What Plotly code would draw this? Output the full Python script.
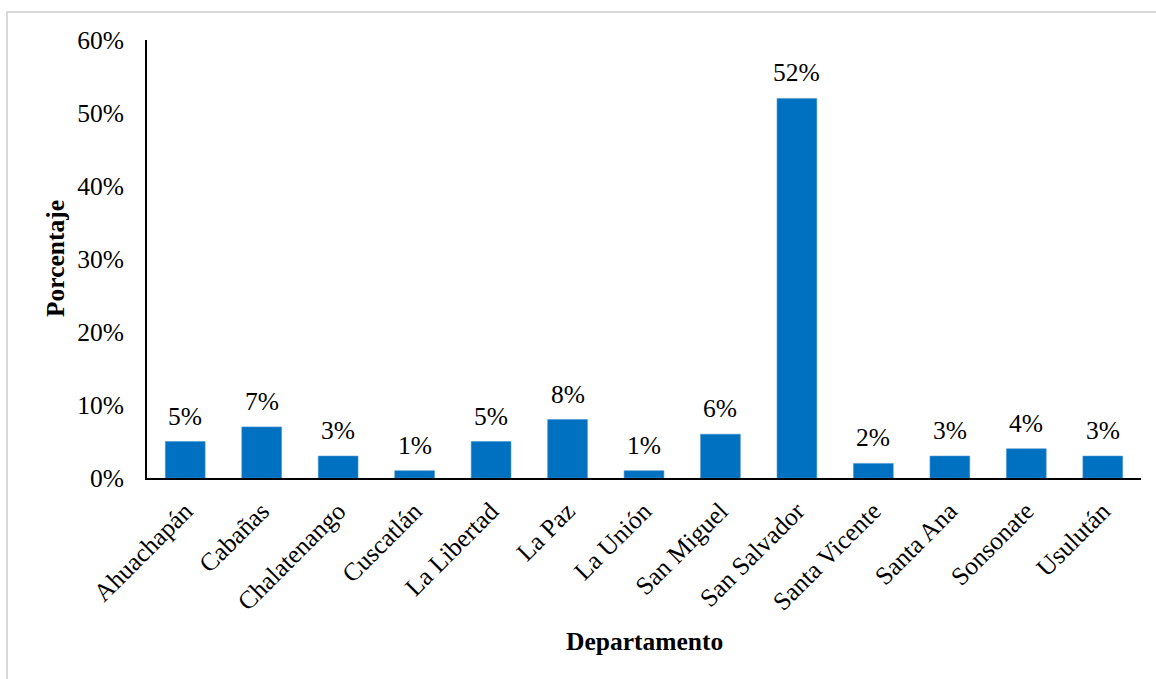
import plotly.graph_objects as go

departamentos = ["Ahuachapán", "Cabañas", "Chalatenango", "Cuscatlán", "La Libertad",
                 "La Paz", "La Unión", "San Miguel", "San Salvador", "Santa Vicente",
                 "Santa Ana", "Sonsonate", "Usulután"]
porcentajes = [5, 7, 3, 1, 5, 8, 1, 6, 52, 2, 3, 4, 3]
y_ticks = [0, 10, 20, 30, 40, 50, 60]
y_tick_labels = [f"{v}%" for v in y_ticks]

FONT = "Liberation Serif"
FS = 25.5
W, H = 1156, 679
L, R, T, B = 147, 15, 40, 201
pw, ph = W - L - R, H - T - B

fig = go.Figure(go.Bar(
    x=departamentos,
    y=porcentajes,
    marker=dict(color="#0070C0", line=dict(color="#4a93d0", width=0.6)),
    width=0.52,
    cliponaxis=False,
))

def px_x(x):
    return (x - L) / pw

def px_y(y):
    return (H - B - y) / ph

# value labels above each bar
value_labels = [
    dict(x=d, y=v, xref="x", yref="y", text=f"{v}%", showarrow=False,
         xanchor="center", yanchor="bottom", yshift=9,
         font=dict(family=FONT, size=FS, color="#000000"))
    for d, v in zip(departamentos, porcentajes)
]

fig.update_layout(
    width=W, height=H,
    margin=dict(l=L, r=R, t=T, b=B),
    paper_bgcolor="white",
    plot_bgcolor="white",
    showlegend=False,
    font=dict(family=FONT, size=FS, color="#000000"),
    xaxis=dict(
        showline=True, linecolor="#000000", linewidth=2,
        ticks="", tickangle=-45,
        tickfont=dict(family=FONT, size=FS, color="#000000"),
        ticklabelstandoff=6,
        showgrid=False, automargin=False,
    ),
    yaxis=dict(
        range=[0, 60],
        tickvals=y_ticks, ticktext=y_tick_labels,
        showline=True, linecolor="#000000", linewidth=2,
        ticks="", showgrid=False, zeroline=False,
        tickfont=dict(family=FONT, size=FS, color="#000000"),
        ticklabelstandoff=16, automargin=False,
    ),
    annotations=value_labels + [
        dict(text="<b>Departamento</b>", xref="paper", yref="paper",
             x=0.5, y=px_y(642), xanchor="center", yanchor="middle",
             showarrow=False, font=dict(family=FONT, size=FS, color="#000000")),
        dict(text="<b>Porcentaje</b>", xref="paper", yref="paper",
             x=px_x(55), y=0.5, xanchor="center", yanchor="middle", textangle=-90,
             showarrow=False, font=dict(family=FONT, size=FS, color="#000000")),
    ],
    shapes=[
        dict(type="rect", xref="paper", yref="paper",
             x0=px_x(7), x1=px_x(1170), y0=px_y(700), y1=px_y(12),
             line=dict(color="#d9d9d9", width=2), fillcolor="rgba(0,0,0,0)", layer="below"),
    ],
)

fig.write_html("out.html")
